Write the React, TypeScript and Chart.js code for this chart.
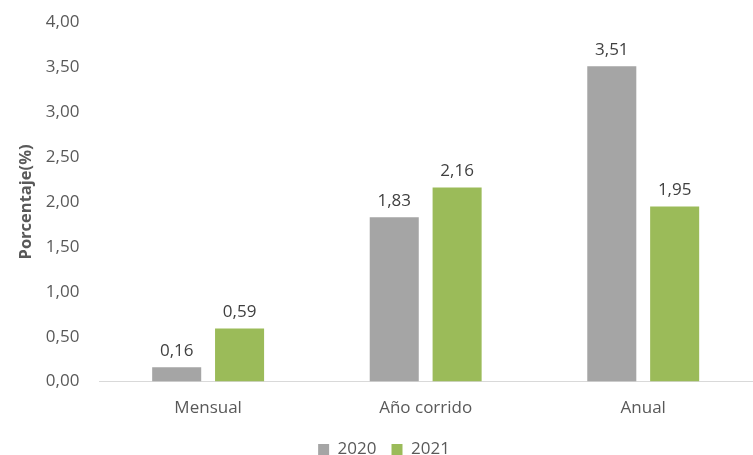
import React, { useEffect, useRef } from "react";
import { Chart, registerables } from "chart.js";

Chart.register(...registerables);

const categories = ["Mensual", "Año corrido", "Anual"];
const series2020 = [0.16, 1.83, 3.51];
const series2021 = [0.59, 2.16, 1.95];
const seriesLabels = ["2020", "2021"];
const yTicks = [0, 0.5, 1, 1.5, 2, 2.5, 3, 3.5, 4];

const FONT = "'Open Sans', sans-serif";
const fmt = (v: number) => v.toFixed(2).replace(".", ",");

const valueLabels = {
  id: "valueLabels",
  afterDatasetsDraw(chart: any) {
    const ctx = chart.ctx;
    ctx.save();
    ctx.font = `17px ${FONT}`;
    ctx.fillStyle = "#404040";
    ctx.textAlign = "center";
    ctx.textBaseline = "bottom";
    chart.data.datasets.forEach((ds: any, i: number) => {
      const meta = chart.getDatasetMeta(i);
      meta.data.forEach((bar: any, j: number) => {
        ctx.fillText(fmt(ds.data[j]), bar.x, bar.y - 8);
      });
    });
    ctx.restore();
  },
};

export default function App() {
  const ref = useRef<HTMLCanvasElement>(null);
  useEffect(() => {
    if (!ref.current) return;
    const chart = new Chart(ref.current, {
      type: "bar",
      data: {
        labels: categories,
        datasets: [
          { label: seriesLabels[0], data: series2020, backgroundColor: "#A5A5A5" },
          { label: seriesLabels[1], data: series2021, backgroundColor: "#9BBB59" },
        ],
      },
      options: {
        animation: false,
        responsive: false,
        maintainAspectRatio: false,
        layout: { padding: { top: 7, right: 1, left: 16, bottom: -13 } },
        datasets: { bar: { categoryPercentage: 0.578, barPercentage: 0.78 } },
        plugins: {
          legend: {
            position: "bottom",
            labels: {
              boxWidth: 11,
              boxHeight: 11,
              color: "#595959",
              font: { family: FONT, size: 17 },
              padding: 15,
            },
          },
          tooltip: { enabled: false },
        },
        scales: {
          x: {
            grid: { display: false },
            border: { display: true, color: "#D9D9D9", width: 1 },
            ticks: { color: "#595959", font: { family: FONT, size: 17 }, padding: 8 },
          },
          y: {
            min: 0,
            max: 4,
            afterBuildTicks: (axis: any) => {
              axis.ticks = yTicks.map((v) => ({ value: v }));
            },
            grid: { display: false },
            border: { display: false },
            ticks: {
              color: "#595959",
              font: { family: FONT, size: 17 },
              padding: 12,
              callback: (v: any) => fmt(Number(v)),
            },
            title: {
              display: true,
              text: "Porcentaje(%)",
              color: "#595959",
              font: { family: FONT, size: 16.5, weight: "bold" },
              padding: { top: 0, bottom: -2 },
            },
          },
        },
      },
      plugins: [valueLabels],
    });
    return () => chart.destroy();
  }, []);
  return (
    <div style={{ position: "fixed", left: 0, top: 0, width: 753, height: 455, background: "#fff" }}>
      <canvas ref={ref} width={753} height={455} style={{ width: 753, height: 455 }} />
    </div>
  );
}
